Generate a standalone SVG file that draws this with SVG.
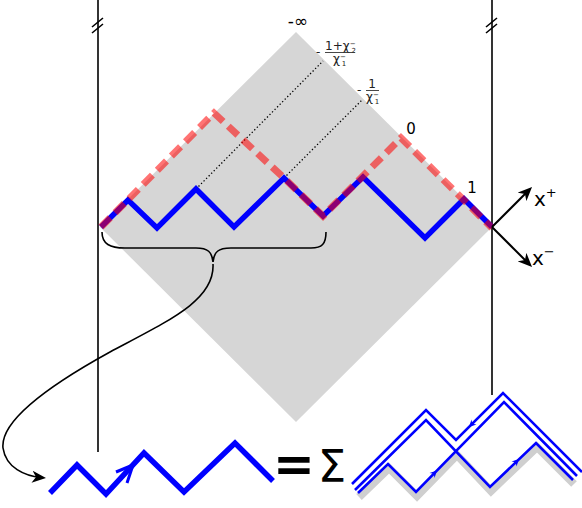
<svg xmlns="http://www.w3.org/2000/svg" width="582" height="508" viewBox="0 0 582 508">
<style>
text{font-family:"DejaVu Sans","Liberation Sans",sans-serif;fill:#000}
.lbl{fill:#222}
.thin{fill:none;stroke:#000;stroke-width:1.6}
.blue{fill:none;stroke:#0000ff;stroke-width:5.5;stroke-linejoin:miter;stroke-linecap:butt}
.red{fill:none;stroke:#ff0000;stroke-opacity:0.55;stroke-width:7;stroke-dasharray:13 7}
.dot{fill:none;stroke:#000;stroke-width:1.3;stroke-dasharray:1.3 2.3}
.bl{fill:none;stroke:#0000ff;stroke-width:2.6}
.ah{fill:#0000ff}
</style>
<defs>
<marker id="arr" viewBox="0 0 14 12" markerWidth="14" markerHeight="12" refX="9" refY="6" orient="auto" markerUnits="userSpaceOnUse">
<path d="M0,0 L14,6 L0,12 L4,6 Z" fill="#000"/>
</marker>
</defs>

<g id="diamond">
<polygon points="296,32 492,227 296,422 100,227" fill="#d6d6d6"/>
</g>

<g id="boundaries">
<line x1="98" y1="0" x2="98" y2="452" class="thin"/>
<line x1="492" y1="0" x2="492" y2="395" class="thin"/>
<path d="M92,27 L103,18 M92,33 L103,24" class="thin"/>
<path d="M486,27 L497,18 M486,33 L497,24" class="thin"/>
</g>

<g id="dotted-lines">
<line x1="196" y1="189" x2="323" y2="61" class="dot"/>
<line x1="284" y1="178" x2="362" y2="100" class="dot"/>
</g>

<g id="blue-path">
<polyline points="101,227 128,200 157,228 196,189 234,227 284,178 323,216 363,177 425,238 464,199 492,227" class="blue"/>
</g>

<g id="red-path">
<polyline points="101,227 214,113 284,178 323,216 401,138 492,228" class="red"/>
</g>

<g id="labels">
<text x="298" y="27" font-size="17" text-anchor="middle">-∞</text>
<text x="316" y="56" font-size="12" class="lbl">-</text>
<text x="325" y="50" font-size="12" class="lbl">1+χ<tspan font-size="7" dy="-4">−</tspan><tspan font-size="7" dx="-4" dy="7">2</tspan></text>
<line x1="325" y1="52.5" x2="355" y2="52.5" stroke="#333" stroke-width="0.9"/>
<text x="333" y="63" font-size="12" class="lbl">χ<tspan font-size="7" dy="-4">−</tspan><tspan font-size="7" dx="-4" dy="7">1</tspan></text>
<text x="357" y="94" font-size="12" class="lbl">-</text>
<text x="372" y="88" font-size="12" class="lbl" text-anchor="middle">1</text>
<line x1="366" y1="90.5" x2="379" y2="90.5" stroke="#333" stroke-width="0.9"/>
<text x="366" y="101" font-size="12" class="lbl">χ<tspan font-size="7" dy="-4">−</tspan><tspan font-size="7" dx="-4" dy="7">1</tspan></text>
<text x="411" y="134" font-size="15" text-anchor="middle">0</text>
<text x="472" y="193" font-size="15" text-anchor="middle">1</text>
</g>

<g id="axes">
<line x1="492" y1="227" x2="528.5" y2="190.5" stroke="#000" stroke-width="2" marker-end="url(#arr)"/>
<line x1="492" y1="227" x2="528.5" y2="263.5" stroke="#000" stroke-width="2" marker-end="url(#arr)"/>
<text x="534" y="206" font-size="20">x<tspan font-size="13" dy="-9">+</tspan></text>
<text x="532" y="265" font-size="20">x<tspan font-size="13" dy="-9">−</tspan></text>
</g>

<g id="connectors">
<path d="M102,232 C102,244 110,248 125,248 L196,248 C208,248 212,252 213,262 C214,252 218,248 231,248 L311,248 C322,248 326,244 326,232" class="thin" stroke-width="1.5"/>
<path d="M213,264 C215,300 170,320 110,352 C50,385 0,420 3,448 C6,468 25,476 41,477.5" class="thin" stroke-width="1.5" marker-end="url(#arr)"/>
</g>

<g id="bottom-path">
<polyline points="50,493 77,465 106,494 144,453 184,492 235,443 273,481" class="blue" stroke-width="5"/>
<path d="M116,472 L133,465 L127,483" fill="none" stroke="#0000ff" stroke-width="3" stroke-linejoin="round"/>
</g>

<g id="equals-sum">
<text x="294" y="481" font-size="50" font-weight="bold" text-anchor="middle">=</text>
<text x="332" y="482" font-size="45" text-anchor="middle">Σ</text>
</g>

<g id="loop-sum">
<polyline points="359,497 389,468 417,496 457,455 491,491 537,447 574,484" fill="none" stroke="#cfcfcf" stroke-width="8"/>
<polyline points="352,484 426,410 456,440 503,393 582,472" class="bl"/>
<polyline points="355,490 426,420 490,487 536,443 573,480" class="bl"/>
<polyline points="358,493 388,464 416,492 504,402 577,476" class="bl"/>
<path d="M469,427 L471.5,419.5 L472.2,423.8 L476.5,424.5 Z" class="ah"/>
<path d="M437,470.5 L434.5,478 L433.8,473.7 L429.5,473 Z" class="ah"/>
<path d="M519,459 L516.5,466.5 L515.8,462.2 L511.5,461.5 Z" class="ah"/>
</g>
</svg>
